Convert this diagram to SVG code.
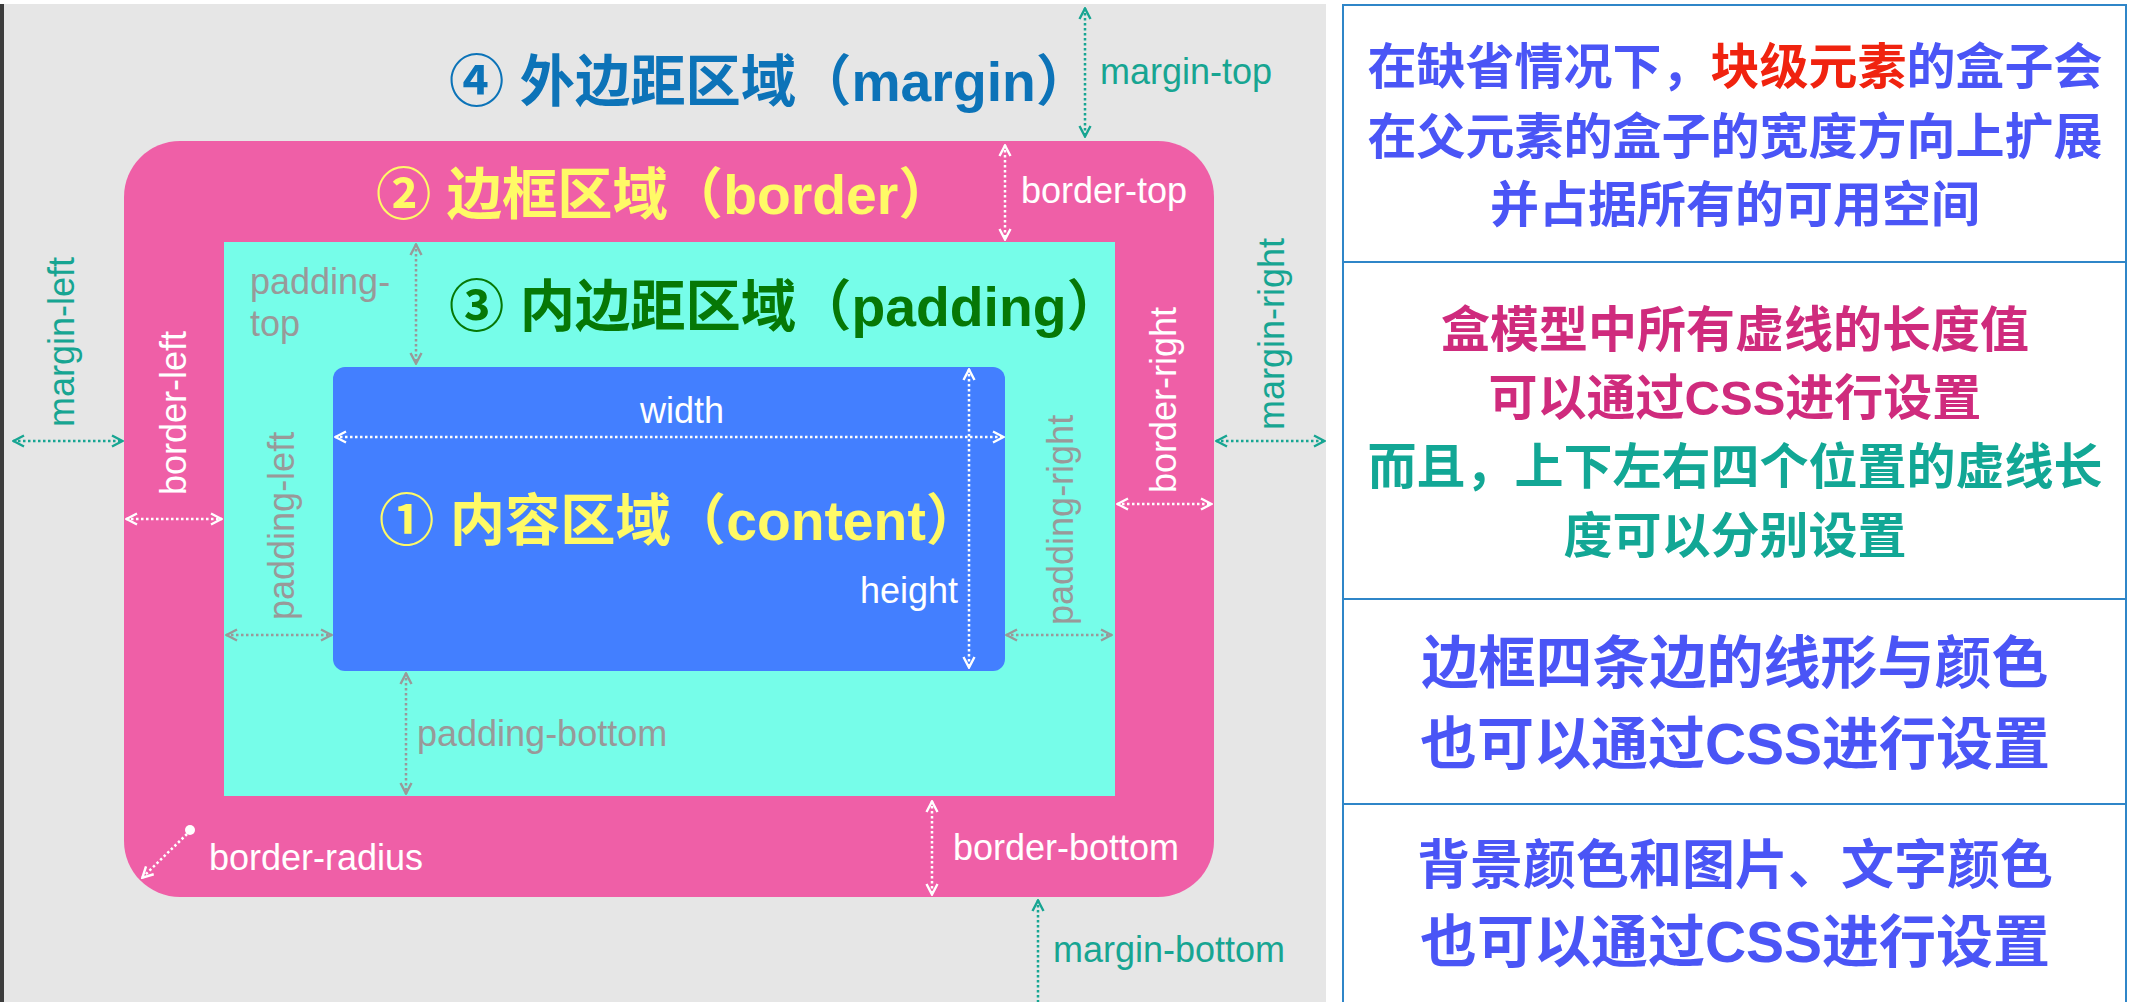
<svg xmlns="http://www.w3.org/2000/svg" width="2134" height="1002" viewBox="0 0 2134 1002">
<style>
.lbl{font-family:"Liberation Sans",Arial,sans-serif;font-size:36px}
.title{font-family:"Liberation Sans","Noto Sans CJK SC",sans-serif;font-size:55.3px;font-weight:bold}
.note{font-family:"Liberation Sans","Noto Sans CJK SC",sans-serif;font-weight:bold;text-anchor:middle}
.n49{font-size:49px}
.n57{font-size:57px}
.n53{font-size:53px}
.teal{fill:#17a592}
.gray{fill:#999999}
.white{fill:#ffffff}
.blueT{fill:#4a55f6}
.redT{fill:#f0230f}
.magT{fill:#cf2b7d}
.tealT{fill:#12a795}
.arr{fill:none;stroke-width:2.5;stroke-dasharray:2.5 2.5}
.aT{stroke:#17a592}
.aW{stroke:#ffffff}
.aG{stroke:#999999}
.divider{stroke:#2f86c8;stroke-width:2;fill:none}
</style>
<defs>
<marker id="mT" viewBox="0 0 14 14" refX="13" refY="7" markerWidth="14" markerHeight="14" markerUnits="userSpaceOnUse" orient="auto-start-reverse"><path d="M2,1.5 L12.5,7 L2,12.5" fill="none" stroke="#17a592" stroke-width="2.4"/></marker>
<marker id="mW" viewBox="0 0 14 14" refX="13" refY="7" markerWidth="14" markerHeight="14" markerUnits="userSpaceOnUse" orient="auto-start-reverse"><path d="M2,1.5 L12.5,7 L2,12.5" fill="none" stroke="#ffffff" stroke-width="2.4"/></marker>
<marker id="mG" viewBox="0 0 14 14" refX="13" refY="7" markerWidth="14" markerHeight="14" markerUnits="userSpaceOnUse" orient="auto-start-reverse"><path d="M2,1.5 L12.5,7 L2,12.5" fill="none" stroke="#999999" stroke-width="2.4"/></marker>
</defs>
<rect x="0" y="0" width="2134" height="1002" fill="#ffffff"/>

<g id="margin-area">
<rect x="0" y="4" width="1326" height="998" fill="#e6e6e6"/>
<rect x="0" y="4" width="4" height="998" fill="#3c3c3c"/>
<text class="title" x="449" y="101" fill="#0c73b8">④ 外边距区域（margin）</text>
<text class="lbl teal" x="1100" y="84">margin-top</text>
<text class="lbl teal" transform="translate(74,427) rotate(-90)">margin-left</text>
<text class="lbl teal" transform="translate(1284,430) rotate(-90)">margin-right</text>
<text class="lbl teal" x="1053" y="962">margin-bottom</text>
</g>

<g id="border-area">
<rect x="124" y="141" width="1090" height="756" rx="56" ry="56" fill="#ef5fa7"/>
<text class="title" x="376" y="214" fill="#fffa66">② 边框区域（border）</text>
<text class="lbl white" x="1021" y="203">border-top</text>
<text class="lbl white" transform="translate(186,495) rotate(-90)">border-left</text>
<text class="lbl white" transform="translate(1176,493) rotate(-90)">border-right</text>
<text class="lbl white" x="953" y="860">border-bottom</text>
<text class="lbl white" x="209" y="870">border-radius</text>
<circle cx="190" cy="830" r="5" fill="#ffffff"/>
</g>

<g id="padding-area">
<rect x="224" y="242" width="891" height="554" fill="#76fde9"/>
<text class="title" x="449" y="326" fill="#067806">③ 内边距区域（padding）</text>
<text class="lbl gray" x="250" y="294">padding-</text>
<text class="lbl gray" x="250" y="336">top</text>
<text class="lbl gray" transform="translate(294,620) rotate(-90)">padding-left</text>
<text class="lbl gray" transform="translate(1073,625) rotate(-90)">padding-right</text>
<text class="lbl gray" x="417" y="746">padding-bottom</text>
</g>

<g id="content-area">
<rect x="333" y="367" width="672" height="304" rx="12" ry="12" fill="#437fff"/>
<text class="title" x="379" y="540" fill="#fffa66">① 内容区域（content）</text>
<text class="lbl white" x="640" y="423">width</text>
<text class="lbl white" x="860" y="603">height</text>
</g>

<g id="connectors">
<line class="arr aT" x1="1085" y1="8" x2="1085" y2="137" marker-start="url(#mT)" marker-end="url(#mT)"/>
<line class="arr aW" x1="1005" y1="145" x2="1005" y2="240" marker-start="url(#mW)" marker-end="url(#mW)"/>
<line class="arr aG" x1="416" y1="244" x2="416" y2="364" marker-start="url(#mG)" marker-end="url(#mG)"/>
<line class="arr aW" x1="335" y1="437" x2="1004" y2="437" marker-start="url(#mW)" marker-end="url(#mW)"/>
<line class="arr aW" x1="969" y1="369" x2="969" y2="668" marker-start="url(#mW)" marker-end="url(#mW)"/>
<line class="arr aT" x1="13" y1="441" x2="123" y2="441" marker-start="url(#mT)" marker-end="url(#mT)"/>
<line class="arr aW" x1="126" y1="519" x2="222" y2="519" marker-start="url(#mW)" marker-end="url(#mW)"/>
<line class="arr aG" x1="226" y1="635" x2="332" y2="635" marker-start="url(#mG)" marker-end="url(#mG)"/>
<line class="arr aG" x1="1006" y1="635" x2="1112" y2="635" marker-start="url(#mG)" marker-end="url(#mG)"/>
<line class="arr aW" x1="1117" y1="504" x2="1212" y2="504" marker-start="url(#mW)" marker-end="url(#mW)"/>
<line class="arr aT" x1="1216" y1="441" x2="1325" y2="441" marker-start="url(#mT)" marker-end="url(#mT)"/>
<line class="arr aG" x1="406" y1="673" x2="406" y2="794" marker-start="url(#mG)" marker-end="url(#mG)"/>
<line class="arr aW" x1="932" y1="801" x2="932" y2="895" marker-start="url(#mW)" marker-end="url(#mW)"/>
<line class="arr aT" x1="1038" y1="900" x2="1038" y2="1002" marker-start="url(#mT)"/>
<line class="arr aW" x1="187" y1="834" x2="142" y2="878" marker-end="url(#mW)"/>
</g>

<g id="notes-panel">
<rect x="1343" y="5" width="783" height="1010" fill="#ffffff" class="divider"/>
<line class="divider" x1="1343" y1="262" x2="2126" y2="262"/>
<line class="divider" x1="1343" y1="599" x2="2126" y2="599"/>
<line class="divider" x1="1343" y1="804" x2="2126" y2="804"/>
</g>

<g id="note-1">
<text class="note n49 blueT" x="1735" y="84">在缺省情况下，<tspan class="redT">块级元素</tspan>的盒子会</text>
<text class="note n49 blueT" x="1735" y="154">在父元素的盒子的宽度方向上扩展</text>
<text class="note n49 blueT" x="1735" y="222">并占据所有的可用空间</text>
</g>
<g id="note-2">
<text class="note n49 magT" x="1735" y="347">盒模型中所有虚线的长度值</text>
<text class="note n49 magT" x="1735" y="415">可以通过CSS进行设置</text>
<text class="note n49 tealT" x="1735" y="484">而且，上下左右四个位置的虚线长</text>
<text class="note n49 tealT" x="1735" y="553">度可以分别设置</text>
</g>
<g id="note-3">
<text class="note n57 blueT" x="1735" y="683">边框四条边的线形与颜色</text>
<text class="note n57 blueT" x="1735" y="764">也可以通过CSS进行设置</text>
</g>
<g id="note-4">
<text class="note n53 blueT" x="1735" y="884">背景颜色和图片、文字颜色</text>
<text class="note n57 blueT" x="1735" y="962">也可以通过CSS进行设置</text>
</g>
</svg>
